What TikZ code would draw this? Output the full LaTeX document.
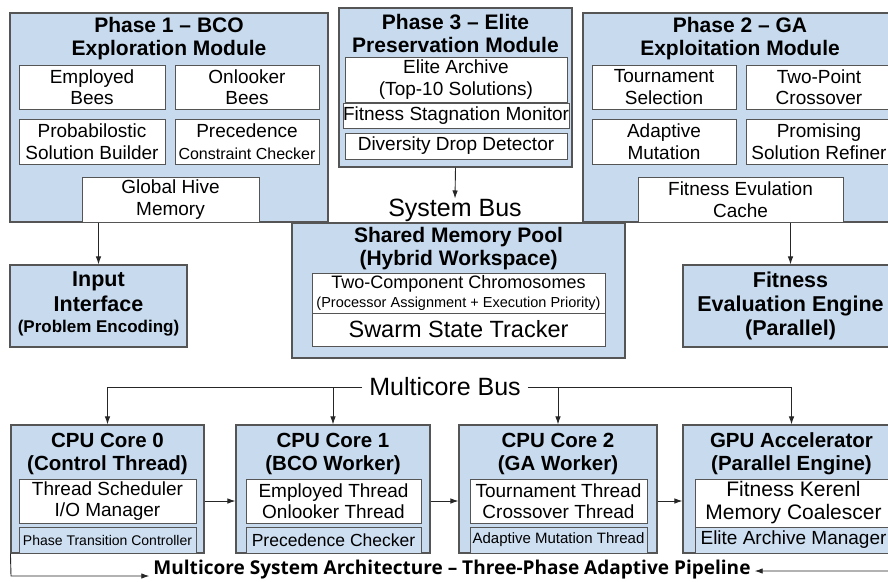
\documentclass[tikz,border=0pt]{standalone}
\usepackage{fontspec}
\setmainfont{Liberation Sans}
\newfontfamily\osfont{Open Sans}[Ligatures=TeX]
\usetikzlibrary{arrows.meta}
\definecolor{blu}{RGB}{199,218,238}
\definecolor{blu2}{RGB}{206,223,242}
\definecolor{edge}{RGB}{85,85,85}
\begin{document}
\begin{tikzpicture}[x=1pt,y=-1pt,
  blk/.style={draw=edge, fill=blu, line width=1.1pt, inner sep=0pt},
  wbox/.style={draw=edge, fill=white, line width=0.9pt, inner sep=0pt, align=center, font=\fontsize{19}{21.5}\selectfont},
  sbox/.style={draw=edge, fill=blu2, line width=0.9pt, inner sep=0pt, align=center},
  ttl/.style={inner sep=0pt, align=center, font=\bfseries\fontsize{21}{23}\selectfont},
  lbl/.style={inner sep=0pt, align=center, font=\fontsize{25}{27}\selectfont},
  arr/.style={-{Latex[length=8pt,width=5.5pt]}, draw=black!85, line width=0.9pt},
  ln/.style={draw=black!85, line width=0.9pt}]
\useasboundingbox (0,0) rectangle (888,581);
\clip (0,0) rectangle (888,581);
\fill[white] (0,0) rectangle (888,581);

% ---------- Phase 1 ----------
\node[blk, minimum width=318pt, minimum height=209pt] (p1) at (169,117.5) {};
\node[ttl] (p1t) at (169,38.5) {Phase 1 – BCO\\Exploration Module};
\node[wbox, minimum width=146pt, minimum height=44pt] (emp) at (92,87) {Employed\\Bees};
\node[wbox, minimum width=144pt, minimum height=44pt] (onl) at (247,87) {Onlooker\\Bees};
\node[wbox, minimum width=146pt, minimum height=45pt] (prob) at (92,141.5) {Probabilostic\\Solution Builder};
\node[wbox, minimum width=144pt, minimum height=45pt] (prec) at (247,141.5) {Precedence\\{\fontsize{16}{18}\selectfont Constraint Checker}};
\node[wbox, minimum width=177pt, minimum height=45pt] (hive) at (170.5,199.5) {Global Hive\\Memory};

% ---------- Phase 3 ----------
\node[blk, minimum width=233pt, minimum height=159pt] (p3) at (455.5,87.5) {};
\node[ttl] (p3t) at (455.5,33.5) {Phase 3 – Elite\\Preservation Module};
\node[wbox, minimum width=222pt, minimum height=45pt] (elite) at (456,79.5) {Elite Archive\\(Top-10 Solutions)};
\node[wbox, minimum width=226pt, minimum height=25pt] (stag) at (456,115.5) {Fitness Stagnation Monitor};
\node[wbox, minimum width=222pt, minimum height=26pt] (div) at (456,146) {Diversity Drop Detector};

\node[lbl] (sbus) at (455,210) {System Bus};

% ---------- Phase 2 ----------
\node[blk, minimum width=315pt, minimum height=209pt] (p2) at (740.5,117.5) {};
\node[ttl] (p2t) at (740,38.5) {Phase 2 – GA\\Exploitation Module};
\node[wbox, minimum width=144pt, minimum height=44pt] (tour) at (664,87) {Tournament\\Selection};
\node[wbox, minimum width=146pt, minimum height=44pt] (twop) at (819,87) {Two-Point\\Crossover};
\node[wbox, minimum width=144pt, minimum height=45pt] (adap) at (664,141.5) {Adaptive\\Mutation};
\node[wbox, minimum width=146pt, minimum height=45pt] (prom) at (819,141.5) {Promising\\Solution Refiner};
\node[wbox, minimum width=205pt, minimum height=45pt] (cache) at (740.5,199.5) {Fitness Evulation\\Cache};

% ---------- Shared memory ----------
\node[blk, minimum width=333pt, minimum height=135pt] (shm) at (458.5,290.5) {};
\node[ttl] (shmt) at (458.5,248.5) {Shared Memory Pool\\(Hybrid Workspace)};
\node[wbox, minimum width=293pt, minimum height=40pt, font=\fontsize{18}{19}\selectfont] (chrom) at (458.5,293) {Two-Component Chromosomes\\{\fontsize{14.5}{16}\selectfont (Processor Assignment + Execution Priority)}};
\node[wbox, minimum width=293pt, minimum height=33pt, font=\fontsize{23.5}{25}\selectfont] (swarm) at (458.5,329.5) {Swarm State Tracker};

% ---------- Input / Fitness engine ----------
\node[blk, minimum width=177pt, minimum height=82pt] (inp) at (98.5,306) {};
\node[ttl, font=\bfseries\fontsize{21.5}{24.5}\selectfont] (inpt) at (98.5,304) {Input\\Interface\\[-3pt]{\fontsize{17}{19}\selectfont (Problem Encoding)}};
\node[blk, minimum width=215pt, minimum height=82pt] (fee) at (790.5,306) {};
\node[ttl, font=\bfseries\fontsize{21.5}{24}\selectfont] (feet) at (790.5,306) {Fitness\\Evaluation Engine\\(Parallel)};

% ---------- Cores ----------
\node[blk, minimum width=193pt, minimum height=128pt] (c0) at (107.5,489) {};
\node[ttl, font=\bfseries\fontsize{20.5}{23}\selectfont] (c0t) at (107.5,453.5) {CPU Core 0\\(Control Thread)};
\node[wbox, minimum width=177pt, minimum height=44pt] (c0i) at (107.5,501) {Thread Scheduler\\I/O Manager};
\node[sbox, minimum width=177pt, minimum height=26pt, font=\fontsize{14}{16}\selectfont] (c0s) at (107.5,540) {Phase Transition Controller};

\node[blk, minimum width=194pt, minimum height=128pt] (c1) at (333,489) {};
\node[ttl, font=\bfseries\fontsize{20.5}{23}\selectfont] (c1t) at (333,453.5) {CPU Core 1\\(BCO Worker)};
\node[wbox, minimum width=175pt, minimum height=44pt] (c1i) at (333.5,501) {Employed Thread\\Onlooker Thread};
\node[sbox, minimum width=175pt, minimum height=26pt, font=\fontsize{17.5}{19}\selectfont] (c1s) at (333.5,540) {Precedence Checker};

\node[blk, minimum width=198pt, minimum height=128pt] (c2) at (558,489) {};
\node[ttl, font=\bfseries\fontsize{20.5}{23}\selectfont] (c2t) at (558,453.5) {CPU Core 2\\(GA Worker)};
\node[wbox, minimum width=177pt, minimum height=44pt] (c2i) at (558.5,501) {Tournament Thread\\Crossover Thread};
\node[sbox, minimum width=177pt, minimum height=26pt, font=\fontsize{15}{17}\selectfont] (c2s) at (558.5,540) {Adaptive Mutation Thread};

\node[blk, minimum width=217pt, minimum height=128pt] (gpu) at (791.5,489) {};
\node[ttl, font=\bfseries\fontsize{20.5}{23}\selectfont] (gput) at (791.5,453.5) {GPU Accelerator\\(Parallel Engine)};
\node[wbox, minimum width=197pt, minimum height=48pt, font=\fontsize{21}{23}\selectfont] (gpui) at (793.5,503) {Fitness Kerenl\\Memory Coalescer};
\node[sbox, minimum width=197pt, minimum height=26pt, font=\fontsize{19}{21}\selectfont] (gpus) at (793.5,540) {Elite Archive Manager};

% ---------- Buses ----------
\node[lbl, inner xsep=7pt] (mbus) at (445,387) {Multicore Bus};

\node[inner ysep=0pt, inner xsep=4pt] (ttl) at (452,570) {\resizebox{597pt}{!}{\osfont\bfseries Multicore System Architecture – Three-Phase Adaptive Pipeline}};

% ---------- Connectors ----------
\draw[arr] (p3.south) -- (sbus.north);
\draw[arr] (inp.north |- p1.south) -- (inp.north);
\draw[arr] (fee.north |- p2.south) -- (fee.north);

\draw[arr] (mbus.west) -| (c0.north);
\draw[arr] (mbus.east) -| (gpu.north);
\draw[arr] (c1.north |- mbus.center) -- (c1.north);
\draw[arr] (c2.north |- mbus.center) -- (c2.north);

\draw[arr] (c0.east |- c0i.east) -- (c1.west |- c0i.east);
\draw[arr] (c1.east |- c1i.east) -- (c2.west |- c1i.east);
\draw[arr] (c2.east |- c2i.east) -- (gpu.west |- c2i.east);

\coordinate (lb) at (11,576);
\draw[arr] (c0.south west) -- (lb) -- (lb -| ttl.west);
\coordinate (rb) at (900,571);
\draw[arr] (gpu.south east) -- (rb) -- (rb -| ttl.east);
\end{tikzpicture}
\end{document}
